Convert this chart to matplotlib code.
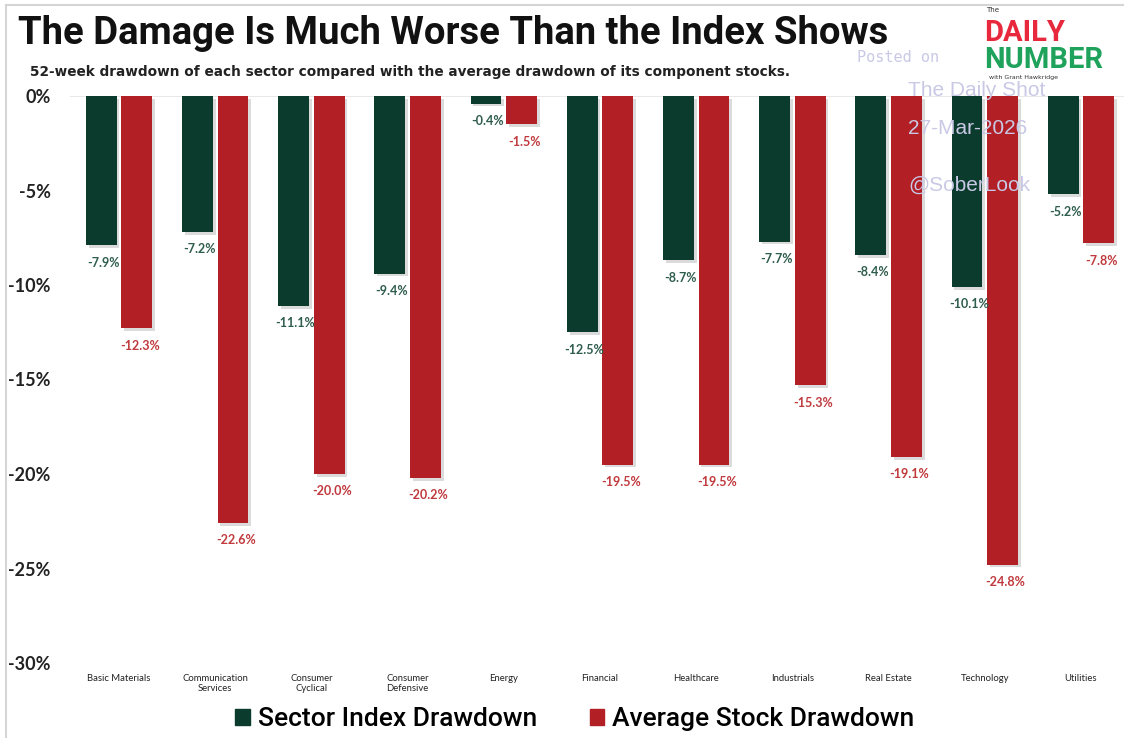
import numpy as np
import matplotlib.pyplot as plt
import matplotlib.patheffects as pe
from matplotlib.lines import Line2D

# data
sectors = ['Basic Materials', 'Communication\nServices', 'Consumer\nCyclical',
           'Consumer\nDefensive', 'Energy', 'Financial', 'Healthcare',
           'Industrials', 'Real Estate', 'Technology', 'Utilities']
index_dd = [-7.9, -7.2, -11.1, -9.4, -0.4, -12.5, -8.7, -7.7, -8.4, -10.1, -5.2]
stock_dd = [-12.3, -22.6, -20.0, -20.2, -1.5, -19.5, -19.5, -15.3, -19.1, -24.8, -7.8]
yticks = [0, -5, -10, -15, -20, -25, -30]

GREEN = '#0b3b2c'
RED = '#b21f24'

W, H = 1124, 738
fig = plt.figure(figsize=(W / 100, H / 100), dpi=100)
fig.patch.set_facecolor('white')

def fx(px):
    return px / W

def fy(py):
    return 1 - py / H

ax = fig.add_axes([fx(70), fy(663), fx(1124 - 70), fy(96) - fy(663)])
ax.set_ylim(-30, 0)
ax.set_xlim(-0.509, 10.447)

x = np.arange(len(sectors))
off = 0.185
bw = 0.32
shadow = [pe.SimplePatchShadow(offset=(2, -2), shadow_rgbFace='#888888', alpha=0.3), pe.Normal()]
b1 = ax.bar(x - off, index_dd, width=bw, color=GREEN, zorder=3)
b2 = ax.bar(x + off, stock_dd, width=bw, color=RED, zorder=3)
for b in list(b1) + list(b2):
    b.set_path_effects(shadow)

for xi, v in zip(x, index_dd):
    ax.text(xi - off + 0.02, v - 0.6, f'{v:.1f}%', ha='center', va='top',
            fontsize=9, fontweight='bold', color='#2f5d4c', family='Lato')
for xi, v in zip(x, stock_dd):
    ax.text(xi + off + 0.03, v - 0.6, f'{v:.1f}%', ha='center', va='top',
            fontsize=9, fontweight='bold', color='#c0393d', family='Lato')

ax.axhline(0, color='#e4e4e4', lw=1.2, zorder=1)
for s in ax.spines.values():
    s.set_visible(False)
ax.set_yticks(yticks)
ax.set_yticklabels([f'{t}%' for t in yticks], fontsize=13, fontweight='bold',
                   color='#222222', family='Lato')
ax.tick_params(axis='y', length=0, pad=14)
ax.set_xticks(x)
ax.set_xticklabels(sectors, fontsize=6.8, color='#222222', family='Lato', linespacing=1.1)
ax.tick_params(axis='x', length=0, pad=8)
for lab in ax.get_xticklabels():
    lab.set_va('top')

# title block
fig.text(fx(18), fy(33), 'The Damage Is Much Worse Than the Index Shows',
         fontsize=27.5, fontweight='bold', color='#111111', family='Roboto',
         va='center', ha='left')
fig.text(fx(30), fy(72), '52-week drawdown of each sector compared with the average drawdown of its component stocks.',
         fontsize=9.85, fontweight='bold', color='#222222', family='DejaVu Sans',
         va='center', ha='left')

# logo
fig.text(fx(986), fy(10), 'The', fontsize=5, color='#333333', va='center')
fig.text(fx(984), fy(33), 'DAILY', fontsize=21, fontweight='bold', color='#e8283c',
         family='Roboto', va='center')
fig.text(fx(984), fy(60), 'NUMBER', fontsize=21, fontweight='bold', color='#1fa35c',
         family='Roboto', va='center')
fig.text(fx(989), fy(77), 'with Grant Hawkridge', fontsize=4.5, color='#333333', va='center')

# watermark
wm = '#c9c9e6'
fig.text(fx(857), fy(57), 'Posted on', fontsize=11, color=wm, family='DejaVu Sans Mono', va='center')
fig.text(fx(908), fy(90), 'The Daily Shot', fontsize=15, color=wm, family='Liberation Sans', va='center')
fig.text(fx(908), fy(128), '27-Mar-2026', fontsize=15, color=wm, family='Liberation Sans', va='center')
fig.text(fx(908), fy(185), '@SoberLook', fontsize=15, color=wm, family='Liberation Sans', va='center')

# frame lines
fig.add_artist(Line2D([fx(6), fx(6)], [0, fy(5)], color='#d5d5d5', lw=1.5))
fig.add_artist(Line2D([fx(6), 1], [fy(5), fy(5)], color='#d5d5d5', lw=1.5))

# legend
handles = [plt.Rectangle((0, 0), 1, 1, color=GREEN), plt.Rectangle((0, 0), 1, 1, color=RED)]
fig.legend(handles, ['Sector Index Drawdown', 'Average Stock Drawdown'],
           loc='center', bbox_to_anchor=(fx(575), fy(719)), ncol=2, frameon=False,
           prop={'family': 'Roboto', 'size': 19, 'weight': 'medium'},
           handlelength=0.55, handleheight=0.55, handletextpad=0.3, columnspacing=2.0)

fig.savefig('out.png', dpi=100, facecolor='white')
